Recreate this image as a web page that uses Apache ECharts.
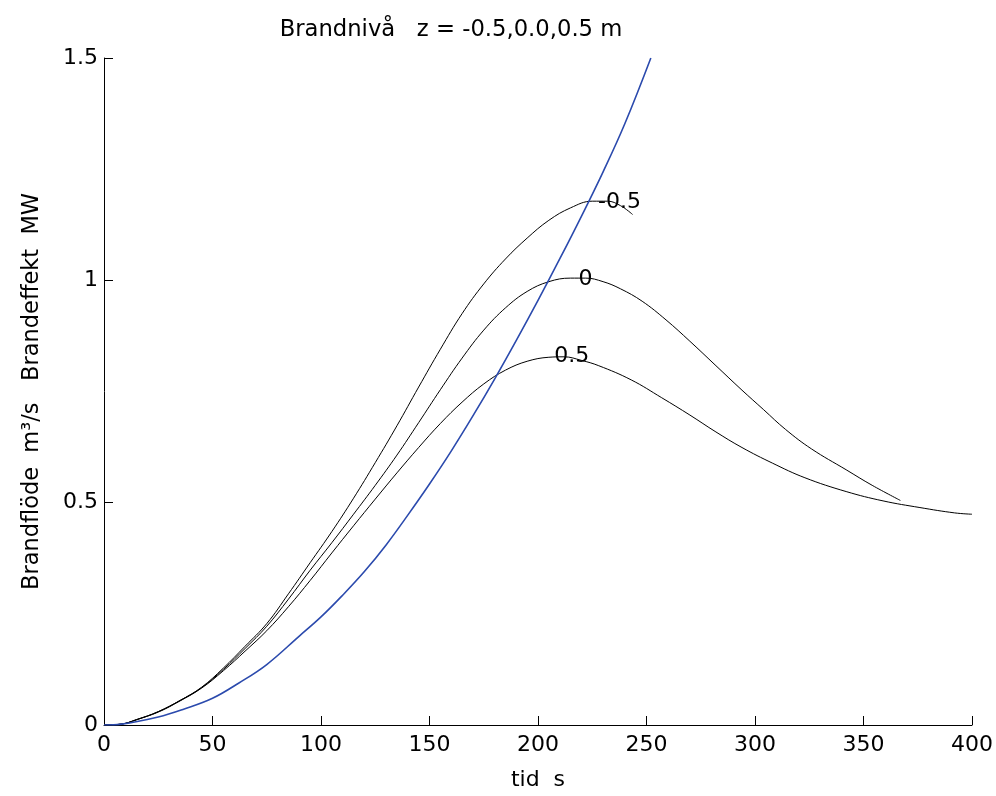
<!DOCTYPE html>
<html>
<head>
<meta charset="utf-8">
<script src="https://cdn.jsdelivr.net/npm/echarts@6/dist/echarts.min.js"></script>
<style>html,body{margin:0;padding:0;background:#fff;overflow:hidden;}#c{width:996px;height:796px;}</style>
</head>
<body>
<div id="c"></div>
<script>
// Tick values
var xTicks = [0, 50, 100, 150, 200, 250, 300, 350, 400];
var yTicks = [0, 0.5, 1, 1.5];

// Brandeffekt (blue)
var blueX = [0, 8, 25, 37, 50, 62, 75, 90, 100, 110, 120, 130, 140, 150, 160, 170, 180, 190, 200, 210, 220, 230, 240, 252];
var blueY = [0, 0.002, 0.018, 0.036, 0.060, 0.094, 0.136, 0.200, 0.243, 0.292, 0.345, 0.405, 0.472, 0.542, 0.616, 0.695, 0.778, 0.865, 0.955, 1.048, 1.144, 1.244, 1.352, 1.5];

// Brandflöde z = -0.5
var zm05X = [0, 8, 15, 25, 35, 45, 55, 65, 75, 85, 95, 105, 115, 125, 135, 145, 155, 165, 175, 185, 195, 205, 215, 225, 232, 238, 243.6];
var zm05Y = [0, 0.002, 0.012, 0.03, 0.055, 0.085, 0.128, 0.177, 0.228, 0.295, 0.365, 0.435, 0.51, 0.59, 0.673, 0.76, 0.845, 0.925, 0.992, 1.048, 1.095, 1.135, 1.163, 1.178, 1.178, 1.168, 1.148];

// Brandflöde z = 0
var z0X = [0, 8, 15, 25, 35, 45, 55, 65, 75, 85, 95, 105, 115, 125, 135, 145, 155, 165, 175, 185, 195, 205, 215, 222, 230, 238, 248, 259, 270, 282, 294, 304, 314, 326, 342, 354, 367];
var z0Y = [0, 0.002, 0.012, 0.03, 0.055, 0.084, 0.125, 0.172, 0.222, 0.283, 0.348, 0.41, 0.474, 0.539, 0.607, 0.68, 0.754, 0.825, 0.888, 0.938, 0.975, 0.997, 1.005, 1.005, 0.997, 0.981, 0.953, 0.911, 0.863, 0.808, 0.753, 0.709, 0.665, 0.621, 0.574, 0.539, 0.505];

// Brandflöde z = 0.5
var zp05X = [0, 8, 15, 25, 35, 45, 55, 65, 75, 85, 95, 105, 115, 125, 135, 145, 155, 165, 175, 185, 195, 205, 212, 220, 228, 243, 257, 270, 282, 294, 308, 323, 342, 359, 376, 392, 400];
var zp05Y = [0, 0.002, 0.012, 0.029, 0.054, 0.083, 0.122, 0.166, 0.212, 0.266, 0.325, 0.387, 0.448, 0.508, 0.567, 0.624, 0.678, 0.726, 0.767, 0.798, 0.818, 0.827, 0.828, 0.82, 0.808, 0.776, 0.736, 0.697, 0.659, 0.624, 0.589, 0.556, 0.525, 0.504, 0.489, 0.477, 0.474];

// Contour-style labels and the x of the point they sit on
var curveLabels = ['-0.5', '0', '0.5'];
var labelAtX = [232, 215, 205];

function pairs(xs, ys) { return xs.map(function (x, i) { return [x, ys[i]]; }); }

var FONT = '"DejaVu Sans", "Liberation Sans", Arial, sans-serif';
var chart = echarts.init(document.getElementById('c'), null, {renderer: 'canvas'});

function blackSeries(xs, ys, lbl, atX, off) {
  var idx = xs.indexOf(atX);
  return {
    type: 'line', data: pairs(xs, ys), showSymbol: false, smooth: 0.4,
    lineStyle: {color: '#000', width: 1}, animation: false, z: 2,
    markPoint: {
      symbol: 'circle', symbolSize: 0, silent: true, animation: false,
      label: {show: true, position: 'inside', formatter: lbl, color: '#000', fontSize: 22, fontFamily: FONT, offset: off},
      data: [{coord: [xs[idx], ys[idx]]}]
    }
  };
}

chart.setOption({
  backgroundColor: '#fff',
  animation: false,
  title: {
    text: 'Brandnivå   z = -0.5,0.0,0.5 m',
    left: 446, top: 14, textAlign: 'center',
    textStyle: {fontFamily: FONT, fontSize: 22.7, fontWeight: 'normal', color: '#000'}
  },
  grid: {left: 104, top: 58, width: 869, height: 673, containLabel: false},
  xAxis: {
    type: 'value', min: xTicks[0], max: xTicks[xTicks.length - 1], interval: 50,
    name: 'tid  s', nameLocation: 'middle', nameGap: 44,
    nameTextStyle: {fontFamily: FONT, fontSize: 22, color: '#000'},
    axisLine: {show: true, onZero: false, lineStyle: {color: '#000', width: 1}},
    axisTick: {show: true, inside: true, length: 9, lineStyle: {color: '#000'}},
    axisLabel: {margin: 9, fontFamily: FONT, fontSize: 22, color: '#000'},
    splitLine: {show: false}
  },
  yAxis: {
    type: 'value', min: yTicks[0], max: yTicks[yTicks.length - 1], interval: 0.5,
    name: 'Brandflöde  m³/s   Brandeffekt  MW', nameLocation: 'middle', nameGap: 60, nameRotate: 90,
    nameTextStyle: {fontFamily: FONT, fontSize: 22.5, color: '#000'},
    axisLine: {show: true, onZero: false, lineStyle: {color: '#000', width: 1}},
    axisTick: {show: true, inside: true, length: 9, lineStyle: {color: '#000'}},
    axisLabel: {margin: 6, fontFamily: FONT, fontSize: 22, color: '#000'},
    splitLine: {show: false}
  },
  series: [
    {type: 'line', data: pairs(blueX, blueY), showSymbol: false, smooth: 0.4,
     lineStyle: {color: '#2b4aad', width: 1.6}, animation: false, z: 3},
    blackSeries(zm05X, zm05Y, curveLabels[0], labelAtX[0], [12, 1]),
    blackSeries(z0X, z0Y, curveLabels[1], labelAtX[1], [15, 1]),
    blackSeries(zp05X, zp05Y, curveLabels[2], labelAtX[2], [23, -1])
  ]
});
</script>
</body>
</html>
